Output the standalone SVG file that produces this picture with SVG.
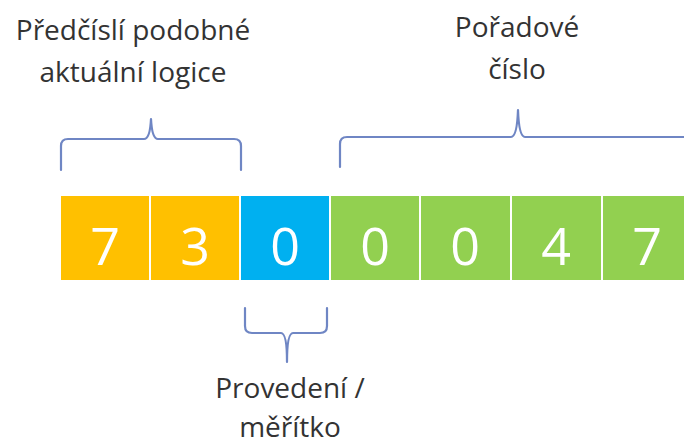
<svg xmlns="http://www.w3.org/2000/svg" width="684" height="447" viewBox="0 0 684 447">
<style>
.lbl{font-family:"Open Sans","Liberation Sans",sans-serif;font-size:28px;fill:#333333;text-anchor:middle}
.dig{font-family:"Open Sans","Liberation Sans",sans-serif;font-size:52px;fill:#ffffff;text-anchor:middle}
.o{fill:#FFC000}.b{fill:#00B0F0}.g{fill:#92D050}
.br{fill:none;stroke:#6F86C4;stroke-width:2.2;stroke-linejoin:round;stroke-linecap:round}
</style>
<rect width="684" height="447" fill="#ffffff"/>
<g id="cells">
<g id="d1"><rect class="o" x="61" y="196" width="88" height="84"/><text class="dig" x="105" y="265">7</text></g>
<g id="d2"><rect class="o" x="151" y="196" width="88" height="84"/><text class="dig" x="195" y="265">3</text></g>
<g id="d3"><rect class="b" x="241" y="196" width="88" height="84"/><text class="dig" x="285" y="265">0</text></g>
<g id="d4"><rect class="g" x="331" y="196" width="88" height="84"/><text class="dig" x="375" y="265">0</text></g>
<g id="d5"><rect class="g" x="421" y="196" width="89" height="84"/><text class="dig" x="465" y="265">0</text></g>
<g id="d6"><rect class="g" x="512" y="196" width="89" height="84"/><text class="dig" x="556" y="265">4</text></g>
<g id="d7"><rect class="g" x="603" y="196" width="90" height="84"/><text class="dig" x="647" y="265">7</text></g>
</g>
<g id="labels">
<g id="l-predcisli"><text class="lbl" x="133" y="40">Předčíslí podobné</text><text class="lbl" x="133" y="82">aktuální logice</text></g>
<g id="l-poradove"><text class="lbl" x="517" y="37">Pořadové</text><text class="lbl" x="517" y="79">číslo</text></g>
<g id="l-provedeni"><text class="lbl" x="290" y="398">Provedení /</text><text class="lbl" x="290" y="437">měřítko</text></g>
</g>
<g id="connectors">
<path class="br" d="M61,170 L61,146 Q61,139 68,139 L144,139 Q150,139 151,119 Q152,139 158,139 L234,139 Q241,139 241,146 L241,170"/>
<path class="br" d="M340,167 L340,144 Q340,137 347,137 L511,137 Q517,137 518,110 Q519,137 525,137 L690,137"/>
<path class="br" d="M245,308 L245,326 Q245,333 252,333 L281,333 Q287,333 287,362 Q287,333 293,333 L320,333 Q327,333 327,326 L327,308"/>
</g>
</svg>
